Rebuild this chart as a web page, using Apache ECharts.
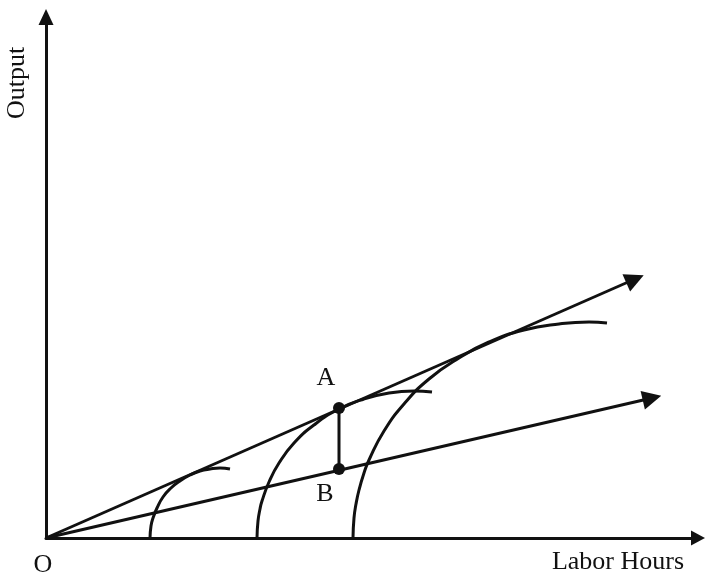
<!DOCTYPE html>
<html>
<head>
<meta charset="utf-8">
<script src="https://cdn.jsdelivr.net/npm/echarts@6/dist/echarts.min.js"></script>
<style>
  html, body { margin: 0; padding: 0; background: #fff; }
  #chartBox { width: 706px; height: 574px; }
</style>
</head>
<body>
<div id="chartBox"></div>
<script>
// axis units (origin = O)
const xMax = 652
const yMax = 521

// three short-run output curves, [labor hours, output]
const curveSmall = [[104,0],[105,12],[107,20],[111,30],[117,41],[125,50],[134,57],[144,63],[154,67],[164,69],[174,70],[184,69]]
const curveMiddle = [[211,0],[212,17],[214,29],[216,37],[223,56],[233,75],[248,95],[268,113],[293,129],[318,139],[343,145],[368,147],[386,146]]
const curveLarge = [[307,0],[308,20],[310,34],[313,48],[318,65],[323,78],[338,107],[358,134],[383,159],[413,180],[443,196],[478,208],[513,214],[543,216],[561,215]]

// rays from the origin
const rayUpper = [[0,0],[589,259]]
const rayLower = [[0,0],[606,140]]

// points A and B
const pointNames = ['A', 'B']
const pointValues = [[293,130],[293,69]]

const ink = '#111'
const serif = '"Liberation Serif", "DejaVu Serif", serif'

function curveSeries(data) {
  return {
    type: 'line',
    data: data,
    smooth: true,
    symbol: 'none',
    lineStyle: { color: ink, width: 3 },
    z: 3
  }
}

function drawChart(id) {
  const chart = echarts.init(document.getElementById(id))
  chart.setOption({
    animation: false,
    grid: { left: 46, right: 8, top: 17, bottom: 36 },
    xAxis: {
      type: 'value',
      min: 0,
      max: xMax,
      axisLine: { show: true, symbol: ['none', 'triangle'], symbolSize: [15, 14], lineStyle: { color: ink, width: 3 } },
      axisTick: { show: false },
      axisLabel: { show: false },
      splitLine: { show: false }
    },
    yAxis: {
      type: 'value',
      min: 0,
      max: yMax,
      axisLine: { show: true, symbol: ['none', 'triangle'], symbolSize: [15, 16], lineStyle: { color: ink, width: 3 } },
      axisTick: { show: false },
      axisLabel: { show: false },
      splitLine: { show: false }
    },
    graphic: [
      { type: 'text', x: 17, y: 83, rotation: Math.PI / 2,
        style: { text: 'Output', font: '26px ' + serif, fill: ink, textAlign: 'center', textVerticalAlign: 'middle' } },
      { type: 'text', x: 618, y: 562,
        style: { text: 'Labor Hours', font: '26px ' + serif, fill: ink, textAlign: 'center', textVerticalAlign: 'middle' } },
      { type: 'text', x: 43, y: 565,
        style: { text: 'O', font: '26px ' + serif, fill: ink, textAlign: 'center', textVerticalAlign: 'middle' } }
    ],
    series: [
      curveSeries(curveSmall),
      curveSeries(curveMiddle),
      curveSeries(curveLarge),
      {
        type: 'lines',
        coordinateSystem: 'cartesian2d',
        symbol: ['none', 'triangle'],
        symbolSize: 19,
        lineStyle: { color: ink, width: 3, opacity: 1 },
        data: [{ coords: rayUpper }, { coords: rayLower }],
        z: 4
      },
      {
        type: 'line',
        data: pointValues,
        symbol: 'none',
        lineStyle: { color: ink, width: 3 },
        z: 4
      },
      {
        type: 'scatter',
        data: [
          { name: pointNames[0], value: pointValues[0], label: { position: 'top', distance: 11, offset: [-13, 0] } },
          { name: pointNames[1], value: pointValues[1], label: { position: 'bottom', distance: 6, offset: [-14, 0] } }
        ],
        symbolSize: 12,
        itemStyle: { color: ink, opacity: 1 },
        label: {
          show: true,
          formatter: '{b}',
          fontFamily: serif,
          fontSize: 26,
          color: ink
        },
        z: 5
      }
    ]
  })
}

drawChart('chartBox')
</script>
</body>
</html>
